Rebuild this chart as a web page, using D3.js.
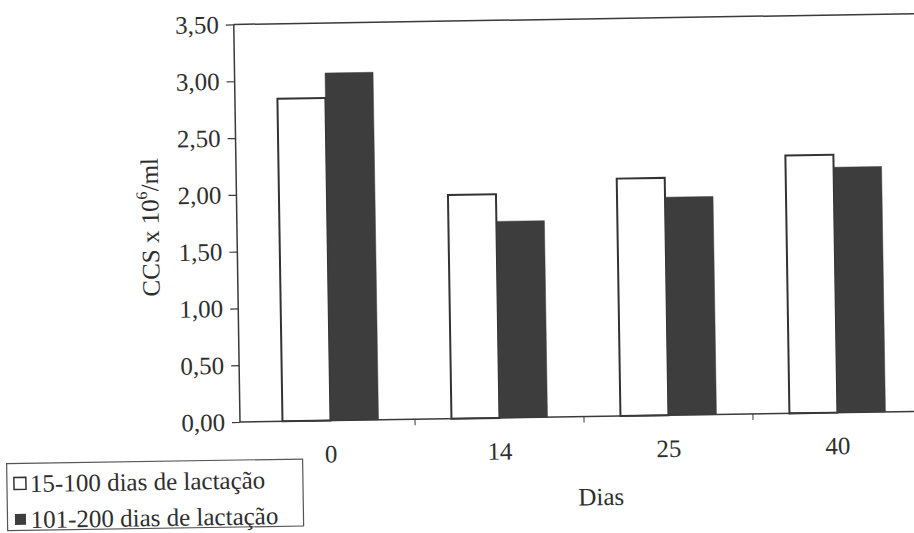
<!DOCTYPE html>
<html><head><meta charset="utf-8">
<script src="https://cdn.jsdelivr.net/npm/d3@7"></script>
<style>
body{margin:0;background:#fff}
svg{display:block}
text{font-family:"Liberation Serif","Times New Roman",serif;fill:#2e2e2e}
</style>
</head><body>
<svg id="c" width="914" height="533"></svg>
<script>
const categories = ["0", "14", "25", "40"];
const seriesNames = ["15-100 dias de lactação", "101-200 dias de lactação"];
const series1 = [2.84, 1.97, 2.09, 2.27];
const series2 = [3.06, 1.73, 1.92, 2.16];
const yTicks = [0, 0.5, 1, 1.5, 2, 2.5, 3, 3.5];
const xTitle = "Dias";

const svg = d3.select("#c");
const root = svg.append("g").attr("transform", "rotate(-0.9,240,422)");

const left = 240, bottom = 422, right = 922;
const y = d3.scaleLinear().domain([0, 3.5]).range([bottom, 24.4]);
const x0 = d3.scaleBand().domain(categories).range([246, 922]).paddingInner(0).paddingOuter(0);
const x1 = d3.scaleBand().domain([0, 1]).range([0, x0.bandwidth()]).paddingInner(0).paddingOuter(0.76);

const data = categories.map((c, i) => ({c, v: [series1[i], series2[i]]}));
const fills = ["#ffffff", "#3d3d3d"];

// frame top line
root.append("line").attr("x1", left).attr("x2", right).attr("y1", y(3.5)).attr("y2", y(3.5))
  .attr("stroke", "#3a3a3a").attr("stroke-width", 1.5);

// bars
const grp = root.selectAll("g.cat").data(data).enter().append("g")
  .attr("transform", d => `translate(${x0(d.c)},0)`);
grp.selectAll("rect").data(d => d.v.map((v, k) => ({v, k}))).enter().append("rect")
  .attr("x", d => x1(d.k))
  .attr("width", x1.bandwidth())
  .attr("y", d => y(d.v))
  .attr("height", d => y(0) - y(d.v))
  .attr("fill", d => fills[d.k])
  .attr("stroke", d => d.k === 0 ? "#333" : "#3d3d3d")
  .attr("stroke-width", d => d.k === 0 ? 2 : 0.5);

// y axis
const yAxis = d3.axisLeft(y).tickValues(yTicks).tickSize(8).tickPadding(7)
  .tickFormat(d => d3.format(".2f")(d).replace(".", ","));
const ya = root.append("g").attr("transform", `translate(${left},0)`).call(yAxis);
ya.select(".domain").attr("stroke", "#3a3a3a").attr("stroke-width", 1.5).attr("d", `M0,${y(3.5)}V${bottom}`);
ya.selectAll(".tick line").attr("stroke", "#3a3a3a").attr("stroke-width", 1.2);
ya.selectAll(".tick text").attr("font-size", 25).attr("fill", "#2e2e2e")
  .style("font-family", '"Liberation Serif","Times New Roman",serif');

// x axis
const xAxis = d3.axisBottom(x0).tickSize(0).tickPadding(24);
const xa = root.append("g").attr("transform", `translate(0,${bottom})`).call(xAxis);
xa.select(".domain").attr("stroke", "#3a3a3a").attr("stroke-width", 1.5).attr("d", `M${left},0H${right}`);
xa.selectAll(".tick text").attr("font-size", 25).attr("fill", "#2e2e2e")
  .style("font-family", '"Liberation Serif","Times New Roman",serif');
xa.selectAll("line.bt").data(categories.slice(1)).enter().append("line").attr("class", "bt")
  .attr("x1", d => x0(d)).attr("x2", d => x0(d)).attr("y1", 0).attr("y2", 6)
  .attr("stroke", "#3a3a3a").attr("stroke-width", 1);

// x title
root.append("text").attr("x", 600).attr("y", 502).attr("text-anchor", "middle")
  .attr("dy", "0.35em").attr("font-size", 25).text(xTitle);

// y title
const yt = root.append("text").attr("transform", "translate(153,226) rotate(-90)")
  .attr("text-anchor", "middle").attr("dy", "0.35em").attr("font-size", 25);
yt.append("tspan").text("CCS x 10");
yt.append("tspan").attr("font-size", 16).attr("dy", "-0.7em").text("6");
yt.append("tspan").attr("dy", "0.45em").text("/ml");

// legend
const lg = root.append("g");
lg.append("rect").attr("x", 6).attr("y", 460).attr("width", 296).attr("height", 67)
  .attr("fill", "#fff").attr("stroke", "#555").attr("stroke-width", 1.2);
const items = lg.selectAll("g.it").data(seriesNames).enter().append("g")
  .attr("transform", (d, i) => `translate(0,${480 + i * 36})`);
items.append("rect")
  .attr("x", (d, i) => i === 0 ? 13 : 13.5)
  .attr("y", (d, i) => i === 0 ? -6 : -5.5)
  .attr("width", (d, i) => i === 0 ? 12 : 11)
  .attr("height", (d, i) => i === 0 ? 12 : 11)
  .attr("fill", (d, i) => fills[i])
  .attr("stroke", (d, i) => i === 0 ? "#333" : "none")
  .attr("stroke-width", 1.5);
items.append("text").attr("x", 29).attr("dy", "0.35em").attr("font-size", 25).text(d => d);
</script>
</body></html>
